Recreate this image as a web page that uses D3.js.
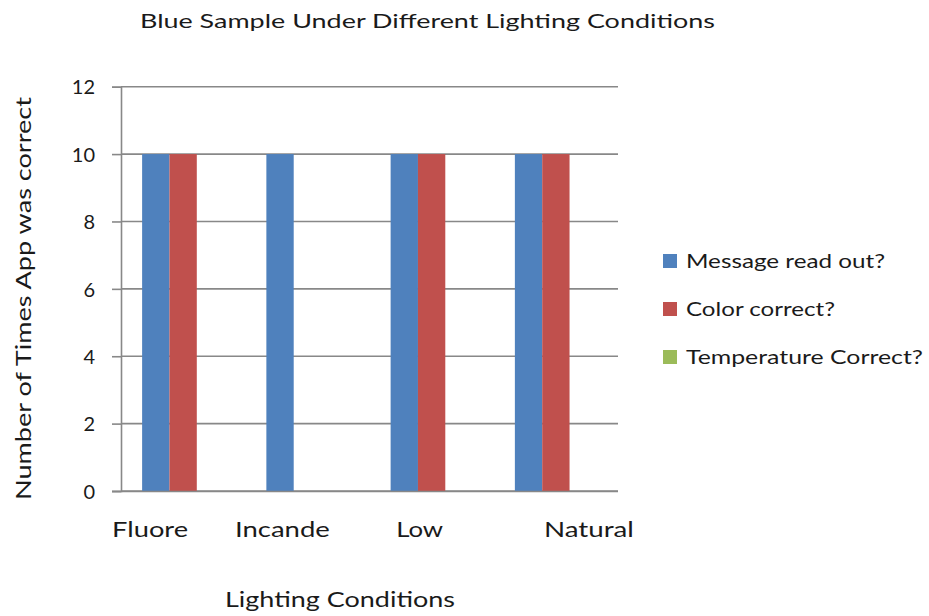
<!DOCTYPE html>
<html>
<head>
<meta charset="utf-8">
<script src="https://cdn.jsdelivr.net/npm/d3@7"></script>
<style>
  html, body { margin: 0; padding: 0; background: #fff; }
  svg { display: block; }
  text { font-family: Lato, "Open Sans", "Noto Sans", sans-serif; fill: #1a1a1a; }
</style>
</head>
<body>
<svg id="chart" width="929" height="616"></svg>
<script>
// ---- data ----
const categories = ["Fluore", "Incande", "Low", "Natural"];
const seriesNames = ["Message read out?", "Color correct?", "Temperature Correct?"];
const messageReadOut = [10, 10, 10, 10];
const colorCorrect = [10, 0, 10, 10];
const temperatureCorrect = [0, 0, 0, 0];
const yTicks = [0, 2, 4, 6, 8, 10, 12];

const seriesValues = [messageReadOut, colorCorrect, temperatureCorrect];
const seriesColors = ["#4F81BD", "#C0504D", "#9BBB59"];

// ---- layout ----
const plot = { left: 121, right: 618, top: 86.7, bottom: 491 };
// horizontal nudges applied to the category labels (px, relative to band centre)
const labelShift = [-33, -25, -12, 33];
const labelWidths = [76, 95, 47, 90];

const svg = d3.select("#chart");

const x0 = d3.scaleBand().domain(categories).range([plot.left, plot.right]).padding(0);
const gap = x0.bandwidth() * 0.17;
const x1 = d3.scaleBand().domain(seriesNames).range([gap, x0.bandwidth() - gap]).padding(0);
const y = d3.scaleLinear().domain([0, 12]).range([plot.bottom, plot.top]);

const gridColor = "#888888";

// horizontal gridlines + y axis ticks
const yAxis = d3.axisLeft(y).tickValues(yTicks).tickSize(9).tickFormat(d3.format("d")).tickPadding(17);
const gy = svg.append("g").attr("transform", `translate(${plot.left},0)`).call(yAxis);
gy.select(".domain").attr("stroke", gridColor).attr("stroke-width", 1.6);
gy.selectAll(".tick line").attr("stroke", gridColor).attr("stroke-width", 1.6);
gy.selectAll(".tick text").style("font-size", "20px").attr("fill", "#1a1a1a").attr("dy", "0.36em");

svg.append("g").selectAll("line.grid")
  .data(yTicks)
  .join("line")
  .attr("class", "grid")
  .attr("x1", plot.left).attr("x2", plot.right)
  .attr("y1", d => y(d)).attr("y2", d => y(d))
  .attr("stroke", gridColor).attr("stroke-width", 1.6);

// bars
const rows = categories.map((c, i) => ({
  category: c,
  values: seriesNames.map((s, j) => ({ series: s, value: seriesValues[j][i], color: seriesColors[j] }))
}));

svg.append("g").selectAll("g")
  .data(rows)
  .join("g")
  .attr("transform", d => `translate(${x0(d.category)},0)`)
  .selectAll("rect")
  .data(d => d.values.filter(v => v.value > 0))
  .join("rect")
  .attr("x", d => x1(d.series))
  .attr("width", x1.bandwidth())
  .attr("y", d => y(d.value))
  .attr("height", d => y(0) - y(d.value))
  .attr("fill", d => d.color);

// x axis baseline
const xAxis = d3.axisBottom(x0).tickSize(0).tickPadding(0);
const gx = svg.append("g").attr("transform", `translate(0,${plot.bottom})`).call(xAxis);
gx.select(".domain").attr("stroke", gridColor).attr("stroke-width", 1.6)
  .attr("d", `M${plot.left - 9},0.5H${plot.right}`);
gx.selectAll(".tick text")
  .style("font-size", "22px")
  .attr("fill", "#1a1a1a")
  .attr("y", 46)
  .attr("dy", 0)
  .attr("x", (d, i) => labelShift[i])
  .attr("textLength", (d, i) => labelWidths[i])
  .attr("lengthAdjust", "spacingAndGlyphs");

// titles
svg.append("text")
  .attr("x", 140).attr("y", 28)
  .style("font-size", "19px")
  .attr("textLength", 575).attr("lengthAdjust", "spacingAndGlyphs")
  .text("Blue Sample Under Different Lighting Conditions");

svg.append("text")
  .attr("x", 225).attr("y", 607)
  .style("font-size", "21px")
  .attr("textLength", 230).attr("lengthAdjust", "spacingAndGlyphs")
  .text("Lighting Conditions");

svg.append("text")
  .attr("transform", "translate(31,500) rotate(-90)")
  .attr("x", 0).attr("y", 0)
  .style("font-size", "21px")
  .attr("textLength", 403).attr("lengthAdjust", "spacingAndGlyphs")
  .text("Number of Times App was correct");

// legend
const legendWidths = [199, 149, 237];
const legend = svg.append("g").selectAll("g")
  .data(seriesNames)
  .join("g")
  .attr("transform", (d, i) => `translate(663,${254 + i * 48})`);
legend.append("rect")
  .attr("width", 14).attr("height", 14)
  .attr("fill", (d, i) => seriesColors[i]);
legend.append("text")
  .attr("x", 23).attr("y", 14)
  .style("font-size", "19px")
  .attr("textLength", (d, i) => legendWidths[i])
  .attr("lengthAdjust", "spacingAndGlyphs")
  .text(d => d);
</script>
</body>
</html>
